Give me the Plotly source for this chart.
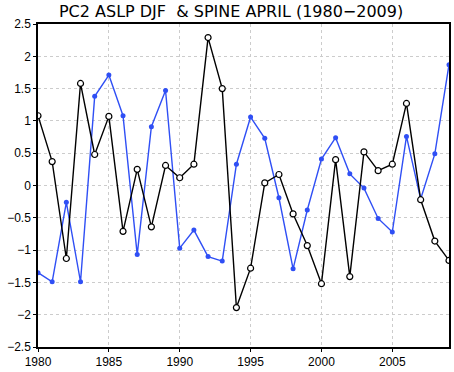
import plotly.graph_objects as go

years = list(range(1980, 2010))
pc2_aslp_djf = [1.08, 0.37, -1.13, 1.58, 0.48, 1.07, -0.71, 0.25, -0.64, 0.31,
                0.12, 0.33, 2.29, 1.50, -1.89, -1.28, 0.04, 0.17, -0.44, -0.93,
                -1.52, 0.40, -1.41, 0.52, 0.23, 0.33, 1.27, -0.22, -0.86, -1.16]
spine_april = [-1.35, -1.49, -0.26, -1.49, 1.38, 1.71, 1.08, -1.07, 0.91, 1.47,
               -0.97, -0.69, -1.10, -1.17, 0.33, 1.06, 0.73, -0.19, -1.29, -0.38,
               0.41, 0.74, 0.18, -0.04, -0.51, -0.72, 0.76, -0.21, 0.49, 1.87]
y_ticks = [2.5, 2, 1.5, 1, 0.5, 0, -0.5, -1, -1.5, -2, -2.5]
x_ticks = [1980, 1985, 1990, 1995, 2000, 2005]

fig = go.Figure()
fig.add_trace(go.Scatter(
    x=years, y=spine_april, mode="lines+markers",
    line=dict(color="#2f4ff5", width=1.4),
    marker=dict(symbol="circle", size=5, color="#2f4ff5"),
    showlegend=False))
fig.add_trace(go.Scatter(
    x=years, y=pc2_aslp_djf, mode="lines+markers",
    line=dict(color="black", width=1.4),
    marker=dict(symbol="circle", size=6, color="white",
                line=dict(color="black", width=1.2)),
    showlegend=False))

axis_common = dict(
    showline=True, linecolor="black", linewidth=1.5, mirror=True,
    showgrid=True, gridcolor="#cccccc", griddash="dot", gridwidth=1,
    ticks="outside", ticklen=3, tickcolor="black", tickwidth=1,
    zeroline=False,
    tickfont=dict(family="Liberation Sans, Arial, sans-serif", size=12, color="black"),
)

fig.update_layout(
    width=454, height=372,
    margin=dict(l=38, r=3, t=24, b=18),
    paper_bgcolor="white", plot_bgcolor="white",
    title=dict(text="PC2 ASLP DJF  &amp; SPINE APRIL (1980\u22122009)",
               x=0.509, xref="container", xanchor="center", y=0.97, yref="container",
               yanchor="middle",
               font=dict(family="DejaVu Sans, sans-serif", size=16, color="black")),
    xaxis=dict(range=[1980, 2009], tickvals=x_ticks,
               ticktext=[str(v) for v in x_ticks], **axis_common),
    yaxis=dict(range=[-2.5, 2.5], tickvals=y_ticks,
               ticktext=[("%g" % v).replace("-", "\u2212") for v in y_ticks], **axis_common),
)

fig.write_html("out.html", config={"displayModeBar": False},
               post_script="document.body.style.margin='0';document.body.style.overflow='hidden';")
